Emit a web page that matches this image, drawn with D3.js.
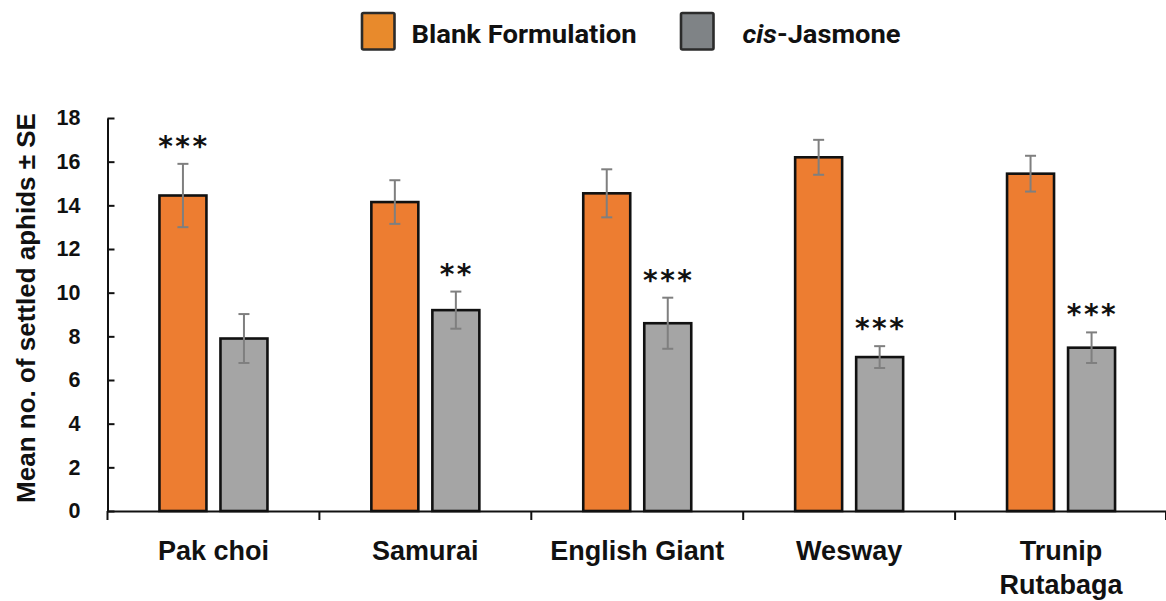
<!DOCTYPE html>
<html>
<head>
<meta charset="utf-8">
<script src="https://cdn.jsdelivr.net/npm/d3@7"></script>
<style>
  html, body { margin: 0; padding: 0; background: #fff; }
  svg { display: block; }
</style>
</head>
<body>
<svg id="chart" width="1166" height="601"></svg>
<script>
// Aphid settlement on brassica cultivars, blank vs cis-jasmone formulation
const cultivars = ["Pak choi", "Samurai", "English Giant", "Wesway", "Trunip\nRutabaga"];
const seriesNames = ["Blank Formulation", "cis-Jasmone"];
const blankMeans = [14.45, 14.15, 14.55, 16.2, 15.45];
const blankSE = [1.45, 1.0, 1.1, 0.8, 0.82];
const jasmoneMeans = [7.9, 9.2, 8.6, 7.05, 7.48];
const jasmoneSE = [1.12, 0.85, 1.17, 0.5, 0.7];
// significance markers (empty = none)
const blankSig = ["***", "", "", "", ""];
const jasmoneSig = ["", "**", "***", "***", "***"];
const yTicks = [0, 2, 4, 6, 8, 10, 12, 14, 16, 18];

const barFill = ["#ED7D31", "#A5A5A5"];
const legendFill = ["#E88A2C", "#7F8386"];

const svg = d3.select("#chart");
const font = "'Liberation Sans', Arial, sans-serif";

const x = d3.scaleBand().domain(cultivars).range([107.5, 1167]).paddingInner(0).paddingOuter(0);
const xs = d3.scaleBand().domain(seriesNames).range([-54, 54]).paddingInner(0.23).paddingOuter(0);
const y = d3.scaleLinear().domain([0, 18]).range([511, 118]);

const rows = [];
cultivars.forEach((c, i) => {
  rows.push({ cat: c, s: seriesNames[0], k: 0, v: blankMeans[i], se: blankSE[i], sig: blankSig[i] });
  rows.push({ cat: c, s: seriesNames[1], k: 1, v: jasmoneMeans[i], se: jasmoneSE[i], sig: jasmoneSig[i] });
});
const cx = d => x(d.cat) + x.bandwidth() / 2 + xs(d.s);

// bars
svg.append("g").selectAll("rect").data(rows).join("rect")
  .attr("x", d => cx(d))
  .attr("y", d => y(d.v))
  .attr("width", xs.bandwidth())
  .attr("height", d => y(0) - y(d.v))
  .attr("fill", d => barFill[d.k])
  .attr("stroke", "#111")
  .attr("stroke-width", 2.6);

// error bars
const eg = svg.append("g").attr("stroke", "#7f7f7f").attr("stroke-width", 2).attr("fill", "none");
rows.forEach(d => {
  const mx = cx(d) + xs.bandwidth() / 2;
  const top = y(d.v + d.se), bot = y(d.v - d.se);
  eg.append("line").attr("x1", mx).attr("x2", mx).attr("y1", top).attr("y2", bot);
  eg.append("line").attr("x1", mx - 5.5).attr("x2", mx + 5.5).attr("y1", top).attr("y2", top);
  eg.append("line").attr("x1", mx - 5.5).attr("x2", mx + 5.5).attr("y1", bot).attr("y2", bot);
});

// significance asterisks
svg.append("g").selectAll("text").data(rows.filter(d => d.sig)).join("text")
  .attr("x", d => cx(d) + xs.bandwidth() / 2 + 1)
  .attr("y", d => y(d.v + d.se) - 8)
  .attr("text-anchor", "middle")
  .attr("font-family", "'DejaVu Sans', sans-serif")
  .attr("font-weight", "bold")
  .attr("font-size", 28)
  .attr("letter-spacing", 2.5)
  .attr("fill", "#111")
  .text(d => d.sig);

// y axis
const yAxis = svg.append("g").attr("transform", `translate(${x.range()[0]},0)`)
  .call(d3.axisLeft(y).tickValues(yTicks).tickSizeInner(-7).tickSizeOuter(0).tickPadding(27));
yAxis.select(".domain").attr("stroke", "#111").attr("stroke-width", 2);
yAxis.selectAll(".tick line").attr("stroke", "#111").attr("stroke-width", 2);
yAxis.selectAll(".tick text")
  .attr("font-family", font).attr("font-weight", "bold").attr("font-size", 21.5).attr("fill", "#111");

// x axis
const xAxis = svg.append("g").attr("transform", `translate(0,${y(0)})`)
  .call(d3.axisBottom(x).tickSize(0).tickPadding(0));
xAxis.select(".domain").attr("stroke", "#111").attr("stroke-width", 2);
xAxis.selectAll(".tick text").each(function (d) {
  const t = d3.select(this).text(null)
    .attr("font-family", font).attr("font-weight", "bold").attr("font-size", 27)
    .attr("fill", "#111").attr("y", 0).attr("dy", null);
  d.split("\n").forEach((line, j) => {
    t.append("tspan").attr("x", 0).attr("y", 49 + j * 34).text(line);
  });
});
// category boundary ticks
const bounds = cultivars.map(c => x(c)).concat([x.range()[1] - 1]);
xAxis.selectAll(".bound").data(bounds).join("line").attr("class", "bound")
  .attr("x1", d => d).attr("x2", d => d).attr("y1", 0).attr("y2", 9)
  .attr("stroke", "#111").attr("stroke-width", 2);

// y axis title
svg.append("text")
  .attr("transform", "translate(35,308) rotate(-90)")
  .attr("text-anchor", "middle")
  .attr("font-family", font).attr("font-weight", "bold").attr("font-size", 26)
  .attr("fill", "#111")
  .text("Mean no. of settled aphids ± SE");

// legend
const legX = [362, 681];
const legTextX = [411.5, 742.5];
const legTextW = [225, 158];
const lg = svg.append("g");
seriesNames.forEach((s, i) => {
  lg.append("rect").attr("x", legX[i]).attr("y", 13).attr("width", 32.5).attr("height", 36.5)
    .attr("rx", 1.5).attr("fill", legendFill[i]).attr("stroke", "#2b2b2b").attr("stroke-width", 2.6);
  const t = lg.append("text").attr("x", legTextX[i]).attr("y", 42.5)
    .attr("font-family", "Roboto, sans-serif").attr("font-weight", "bold").attr("font-size", 26.5)
    .attr("textLength", legTextW[i]).attr("lengthAdjust", "spacingAndGlyphs")
    .attr("fill", "#111");
  if (s.startsWith("cis-")) {
    t.append("tspan").attr("font-style", "italic").text("cis");
    t.append("tspan").text(s.slice(3));
  } else {
    t.text(s);
  }
});
</script>
</body>
</html>
